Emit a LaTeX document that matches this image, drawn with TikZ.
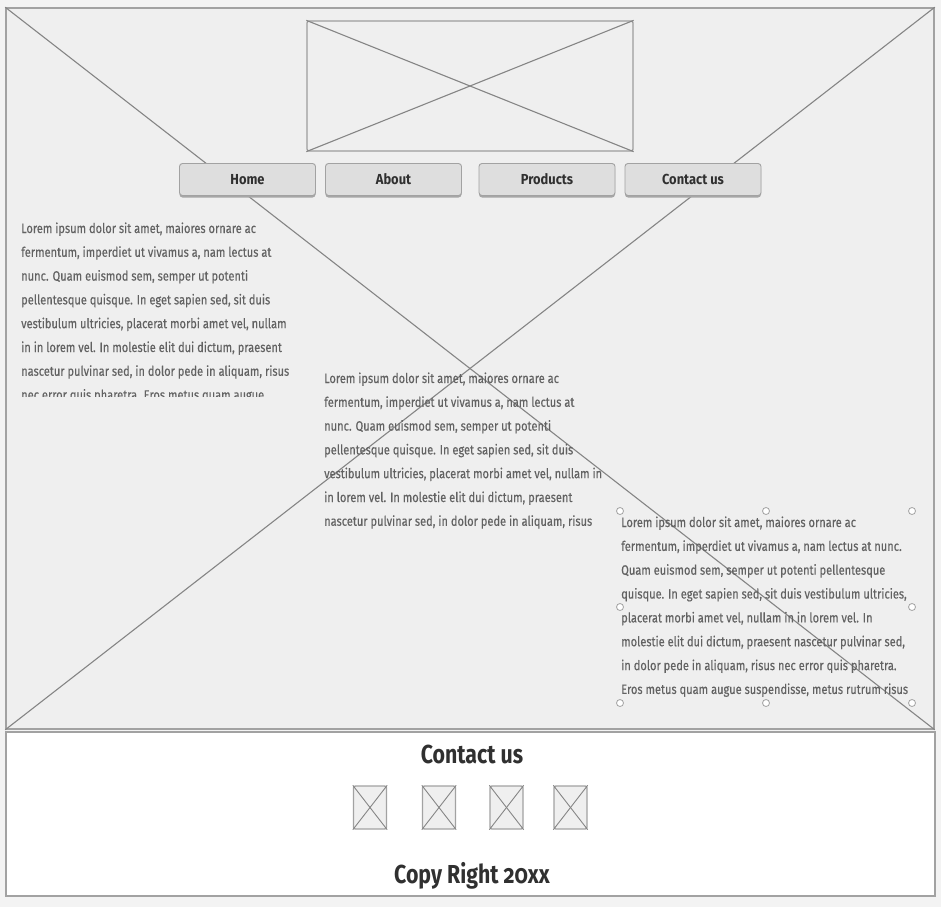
\documentclass[tikz,border=0pt]{standalone}
\usepackage{fontspec}
\setmainfont[FakeStretch=0.82]{Fira Sans}
\newfontfamily\bodyfont[FakeStretch=0.82,FakeBold=0.3]{Fira Sans}
\newfontfamily\navfont[FakeStretch=0.89]{Fira Sans}
\definecolor{pagebg}{HTML}{F3F3F3}
\definecolor{boxbg}{HTML}{EFEFEF}
\definecolor{frame}{HTML}{A2A2A2}
\definecolor{xline}{HTML}{858585}
\definecolor{bodytxt}{HTML}{626262}
\definecolor{darktxt}{HTML}{303030}
\definecolor{btnfill}{HTML}{DEDEDE}
\definecolor{btnshadow}{HTML}{A6A6A6}
\tikzset{
  mainbox/.style={draw=frame, line width=1.6pt, fill=boxbg, inner sep=0pt},
  footbox/.style={draw=frame, line width=1.4pt, fill=white, inner sep=0pt},
  imgbox/.style={draw=xline!80, line width=1.3pt, rounded corners=2pt, inner sep=0pt},
  xdiag/.style={draw=xline, line width=1.1pt},
  navbtn/.style={draw=frame, line width=0.9pt, fill=btnfill, rounded corners=3pt,
     minimum width=136, minimum height=32, inner sep=0pt,
     font=\navfont\fontsize{14.5}{16}\selectfont\bfseries, text=darktxt},
  navshadow/.style={fill=btnshadow, rounded corners=3pt, minimum width=136, minimum height=32, inner sep=0pt},
  bodyline/.style={anchor=base west, inner sep=0pt, font=\bodyfont\fontsize{13.5}{15}\selectfont, text=bodytxt},
  foottitle/.style={inner sep=0pt, font=\fontsize{26}{30}\selectfont\bfseries, text=darktxt},
  iconbox/.style={draw=frame, line width=1.4pt, fill=boxbg, rounded corners=2pt,
     minimum width=33, minimum height=43, inner sep=0pt},
  handle/.style={circle, draw=frame, line width=0.8pt, fill=white, minimum size=7, inner sep=0pt}
}
\begin{document}
\begin{tikzpicture}[x=1pt,y=-1pt]
\useasboundingbox (0,0) rectangle (941,907);
\fill[pagebg] (0,0) rectangle (941,907);

% main page
\node[mainbox, minimum width=928, minimum height=721] (main) at (470,368.5) {};
\draw[xdiag] (main.north west) -- (main.south east);
\draw[xdiag] (main.north east) -- (main.south west);

% header image
\node[imgbox, minimum width=326, minimum height=130] (img) at (470,86) {};
\draw[xdiag] (img.north west) -- (img.south east);
\draw[xdiag] (img.north east) -- (img.south west);

% nav buttons
\foreach \cx/\lab/\nm in {247.5/Home/home, 393.5/About/about, 547/Products/prod, 693/Contact us/cont}{
  \node[navshadow] (\nm s) at (\cx,181.5) {};
  \node[navbtn] (\nm) at (\cx,179.5) {\lab};
}

% left text (clipped)
\begin{scope}
\clip (15,205) rectangle (305,396);
\foreach \t [count=\i from 0] in {
  {Lorem ipsum dolor sit amet, maiores ornare ac},
  {fermentum, imperdiet ut vivamus a, nam lectus at},
  {nunc. Quam euismod sem, semper ut potenti},
  {pellentesque quisque. In eget sapien sed, sit duis},
  {vestibulum ultricies, placerat morbi amet vel, nullam},
  {in in lorem vel. In molestie elit dui dictum, praesent},
  {nascetur pulvinar sed, in dolor pede in aliquam, risus},
  {nec error quis pharetra. Eros metus quam augue}}
  \node[bodyline] (la\i) at (21,233+23.8*\i) {\t};
\end{scope}

% middle text
\foreach \t [count=\i from 0] in {
  {Lorem ipsum dolor sit amet, maiores ornare ac},
  {fermentum, imperdiet ut vivamus a, nam lectus at},
  {nunc. Quam euismod sem, semper ut potenti},
  {pellentesque quisque. In eget sapien sed, sit duis},
  {vestibulum ultricies, placerat morbi amet vel, nullam in},
  {in lorem vel. In molestie elit dui dictum, praesent},
  {nascetur pulvinar sed, in dolor pede in aliquam, risus}}
  \node[bodyline] (mb\i) at (324,383+23.8*\i) {\t};

% right text
\foreach \t [count=\i from 0] in {
  {Lorem ipsum dolor sit amet, maiores ornare ac},
  {fermentum, imperdiet ut vivamus a, nam lectus at nunc.},
  {Quam euismod sem, semper ut potenti pellentesque},
  {quisque. In eget sapien sed, sit duis vestibulum ultricies,},
  {placerat morbi amet vel, nullam in in lorem vel. In},
  {molestie elit dui dictum, praesent nascetur pulvinar sed,},
  {in dolor pede in aliquam, risus nec error quis pharetra.},
  {Eros metus quam augue suspendisse, metus rutrum risus}}
  \node[bodyline] (rc\i) at (621,527+23.85*\i) {\t};

% selection handles
\foreach \hx/\hy/\nm in {620/511/h1, 766/511/h2, 912/511/h3, 620/607/h4, 912/607/h5, 620/703/h6, 766/703/h7, 912/703/h8}
  \node[handle] (\nm) at (\hx,\hy) {};

% footer
\node[footbox, minimum width=929, minimum height=164] (foot) at (470.5,814) {};
\node[foottitle] (ftitle) at (472,754) {Contact us};
\foreach \cx/\nm in {370/i1, 439/i2, 506.5/i3, 570.5/i4}{
  \node[iconbox] (\nm) at (\cx,807.5) {};
  \draw[xdiag, line width=0.9pt] (\nm.north west) -- (\nm.south east);
  \draw[xdiag, line width=0.9pt] (\nm.north east) -- (\nm.south west);
}
\node[foottitle] (copy) at (472,876) {Copy Right {\addfontfeatures{Numbers=OldStyle}20}xx};
\end{tikzpicture}
\end{document}
